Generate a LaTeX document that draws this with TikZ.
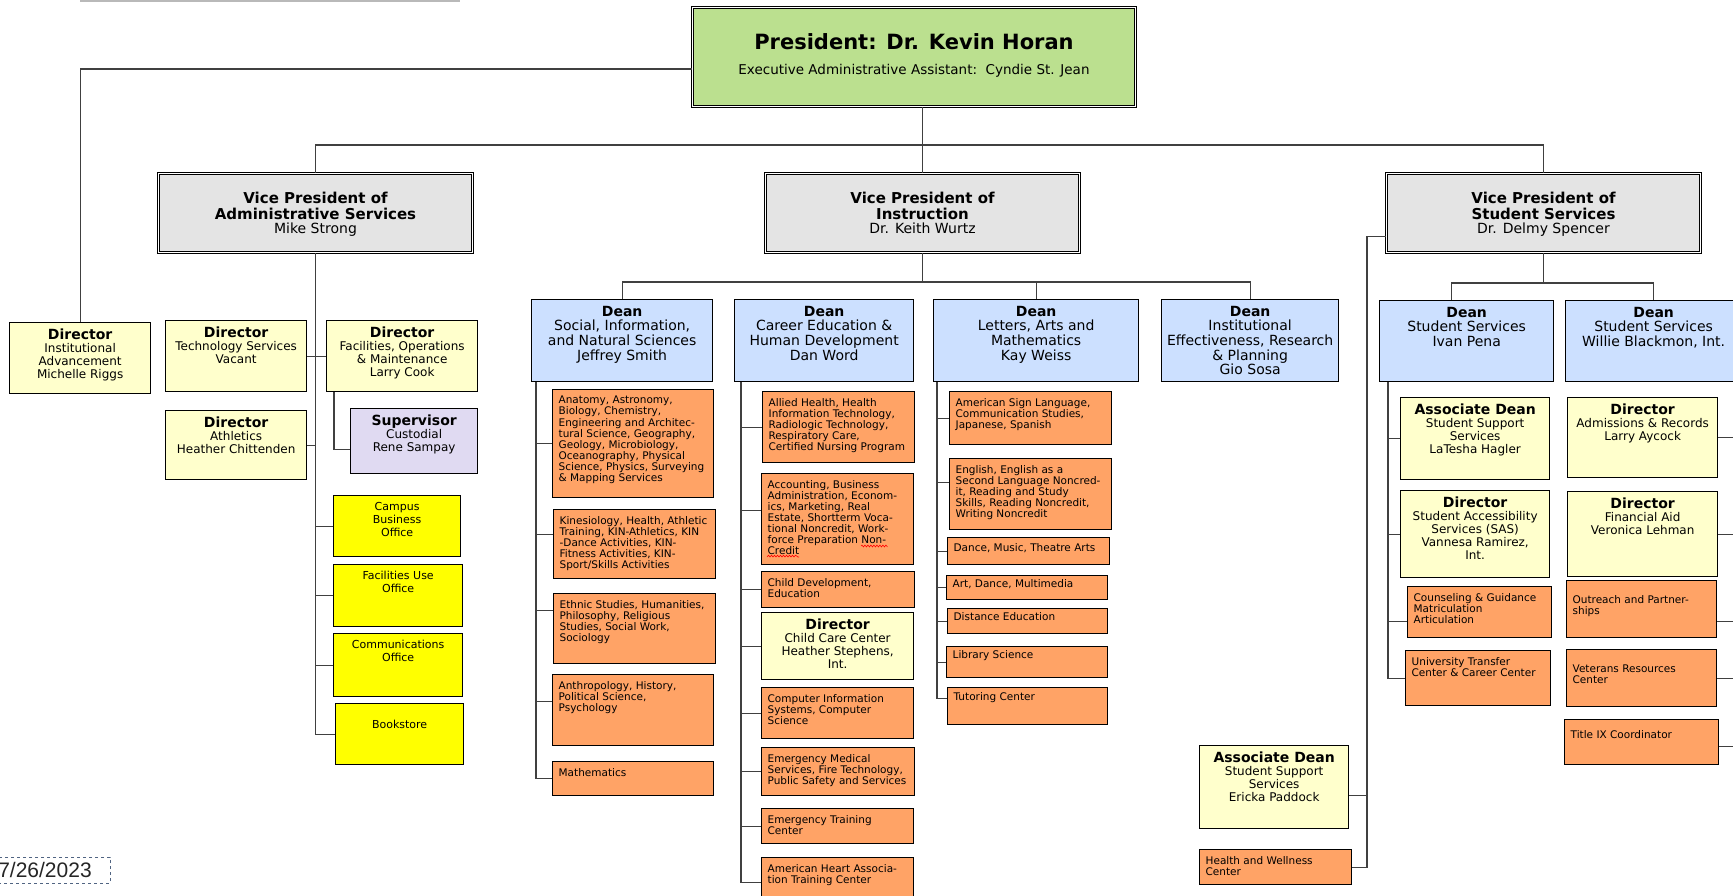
\documentclass[tikz,border=0pt]{standalone}
\usepackage{fontspec}
\setmainfont{DejaVu Sans}
\newfontfamily\datefont{Liberation Sans}
\usepackage{tikz}
\usetikzlibrary{decorations.pathmorphing}

\definecolor{presgreen}{RGB}{187,224,143}
\definecolor{vpgray}{RGB}{228,228,228}
\definecolor{deanblue}{RGB}{204,224,255}
\definecolor{diryellow}{RGB}{255,255,204}
\definecolor{officeyellow}{RGB}{255,255,0}
\definecolor{unitorange}{RGB}{255,163,102}
\definecolor{suplavender}{RGB}{224,218,242}
\definecolor{conngray}{RGB}{64,64,64}
\definecolor{dateblue}{RGB}{80,100,130}

% box contents: [top pad]{width}{height}{text}
\newcommand{\ctext}[4][6.5]{\parbox[t][#3pt][t]{#2pt}{\centering\vspace*{#1pt}#4\par}}
\newcommand{\ltext}[4][6.5]{\parbox[t][#3pt][t]{#2pt}{\raggedright\leftskip=6pt\vspace*{#1pt}#4\par}}
\newcommand{\hd}[1]{{\fontsize{14}{15}\bfseries #1}\\}

\begin{document}
\begin{tikzpicture}[x=1pt, y=-1pt,
  box/.style={draw=black, line width=1.3pt, inner sep=0pt, anchor=north west},
  topbox/.style={box, line width=1pt, double=white, double distance=1.3pt},
  deanbox/.style={box, fill=deanblue, font=\fontsize{14}{14.6}\selectfont},
  dirbox/.style={box, fill=diryellow, font=\fontsize{12}{13}\selectfont},
  officebox/.style={box, fill=officeyellow, font=\fontsize{11}{13}\selectfont},
  unitbox/.style={box, fill=unitorange, font=\fontsize{10.5}{11.1}\selectfont},
  conn/.style={draw=conngray, line width=1.3pt},
  datebox/.style={draw=dateblue, dashed, line width=1pt, minimum width=130,
                  minimum height=26, inner sep=0pt, text=black!85,
                  font=\datefont\fontsize{21}{21}\selectfont}
]
\useasboundingbox (0,0) rectangle (1733,895);
\fill[white] (0,0) rectangle (1733,895);
\clip (0,0) rectangle (1733,895);

% president and vice presidents
\node[topbox, fill=presgreen] (pres) at (692,7) {\ctext[26]{443}{99}{%
  {\fontsize{21}{21}\bfseries President: Dr. Kevin Horan\par}%
  {\fontsize{13.5}{25}\selectfont Executive Administrative Assistant:~~Cyndie St. Jean\par}}};
\node[topbox, fill=vpgray] (vpa) at (158,173) {\ctext[18.5]{314}{79}{%
  {\fontsize{15}{16}\bfseries Vice President of\\ Administrative Services\par}%
  {\fontsize{14}{14}\selectfont Mike Strong\par}}};
\node[topbox, fill=vpgray] (vpi) at (765,173) {\ctext[18.5]{314}{79}{%
  {\fontsize{15}{16}\bfseries Vice President of\\ Instruction\par}%
  {\fontsize{14}{14}\selectfont Dr. Keith Wurtz\par}}};
\node[topbox, fill=vpgray] (vps) at (1386,173) {\ctext[18.5]{314}{79}{%
  {\fontsize{15}{16}\bfseries Vice President of\\ Student Services\par}%
  {\fontsize{14}{14}\selectfont Dr. Delmy Spencer\par}}};

% administrative services
\node[dirbox] (dia) at (9,322) {\ctext{141}{71}{\hd{Director}Institutional\\ Advancement\\ Michelle Riggs}};
\node[dirbox] (tech) at (165,320) {\ctext{141}{71}{\hd{Director}Technology Services\\ Vacant}};
\node[dirbox] (fac) at (326,320) {\ctext{151}{71}{\hd{Director}Facilities, Operations\\ \& Maintenance\\ Larry Cook}};
\node[dirbox] (ath) at (165,410) {\ctext{141}{69}{\hd{Director}Athletics\\ Heather Chittenden}};
\node[dirbox, fill=suplavender] (sup) at (350,408) {\ctext{127}{65}{\hd{Supervisor}Custodial\\ Rene Sampay}};
\node[officebox] (cbo) at (333,495) {\ctext{127}{61}{Campus\\ Business\\ Office}};
\node[officebox] (fuo) at (333,564) {\ctext{129}{62}{Facilities Use\\ Office}};
\node[officebox] (comm) at (333,633) {\ctext{129}{63}{Communications\\ Office}};
\node[officebox] (book) at (335,703) {\ctext[16]{128}{61}{Bookstore}};

% instruction: deans
\node[deanbox] (sins) at (531,299) {\ctext{181}{82}{\hd{Dean}Social, Information,\\ and Natural Sciences\\ Jeffrey Smith}};
\node[deanbox] (cehd) at (734,299) {\ctext{179}{82}{\hd{Dean}Career Education \&\\ Human Development\\ Dan Word}};
\node[deanbox] (lam) at (933,299) {\ctext{205}{82}{\hd{Dean}Letters, Arts and\\ Mathematics\\ Kay Weiss}};
\node[deanbox] (ie) at (1161,299) {\ctext{177}{82}{\hd{Dean}Institutional\\ Effectiveness, Research\\ \& Planning\\ Gio Sosa}};

% instruction: social, information and natural sciences
\node[unitbox] (sins1) at (552,389) {\ltext{161}{108}{Anatomy, Astronomy,\\ Biology, Chemistry,\\ Engineering and Architec-\\ tural Science, Geography,\\ Geology, Microbiology,\\ Oceanography, Physical\\ Science, Physics, Surveying\\ \& Mapping Services}};
\node[unitbox] (sins2) at (553,509) {\ltext{162}{69}{Kinesiology, Health, Athletic\\ Training, KIN-Athletics, KIN\\ -Dance Activities, KIN-\\ Fitness Activities, KIN-\\ Sport/Skills Activities}};
\node[unitbox] (sins3) at (553,593) {\ltext{162}{70}{Ethnic Studies, Humanities,\\ Philosophy, Religious\\ Studies, Social Work,\\ Sociology}};
\node[unitbox] (sins4) at (552,674) {\ltext{161}{71}{Anthropology, History,\\ Political Science,\\ Psychology}};
\node[unitbox] (sins5) at (552,761) {\ltext{161}{34}{Mathematics}};

% instruction: career education and human development
\node[unitbox] (cehd1) at (762,391) {\ltext{152}{71}{Allied Health, Health\\ Information Technology,\\ Radiologic Technology,\\ Respiratory Care,\\ Certified Nursing Program}};
\node[unitbox] (cehd2) at (761,473) {\ltext{152}{91}{Accounting, Business\\ Administration, Econom-\\ ics, Marketing, Real\\ Estate, Shortterm Voca-\\ tional Noncredit, Work-\\ force Preparation Non-\\ Credit}};
\node[unitbox] (cehd3) at (761,571) {\ltext{153}{36}{Child Development,\\ Education}};
\node[dirbox] (cehd4) at (761,612) {\ctext{152}{67}{\hd{Director}Child Care Center\\ Heather Stephens,\\ Int.}};
\node[unitbox] (cehd5) at (761,687) {\ltext{152}{51}{Computer Information\\ Systems, Computer\\ Science}};
\node[unitbox] (cehd6) at (761,747) {\ltext{153}{48}{Emergency Medical\\ Services, Fire Technology,\\ Public Safety and Services}};
\node[unitbox] (cehd7) at (761,808) {\ltext{152}{35}{Emergency Training\\ Center}};
\node[unitbox] (cehd8) at (761,857) {\ltext{152}{50}{American Heart Associa-\\ tion Training Center}};

% instruction: letters, arts and mathematics
\node[unitbox] (lam1) at (949,391) {\ltext{162}{53}{American Sign Language,\\ Communication Studies,\\ Japanese, Spanish}};
\node[unitbox] (lam2) at (949,458) {\ltext{162}{71}{English, English as a\\ Second Language Noncred-\\ it, Reading and Study\\ Skills, Reading Noncredit,\\ Writing Noncredit}};
\node[unitbox] (lam3) at (947,537) {\ltext[6]{162}{27}{Dance, Music, Theatre Arts}};
\node[unitbox] (lam4) at (946,575) {\ltext[4]{161}{24}{Art, Dance, Multimedia}};
\node[unitbox] (lam5) at (947,608) {\ltext[4]{160}{25}{Distance Education}};
\node[unitbox] (lam6) at (946,646) {\ltext[4]{161}{31}{Library Science}};
\node[unitbox] (lam7) at (947,687) {\ltext[4.5]{160}{37}{Tutoring Center}};

% student services
\node[deanbox] (ss1) at (1379,300) {\ctext{174}{81}{\hd{Dean}Student Services\\ Ivan Pena}};
\node[deanbox] (ss2) at (1565,300) {\ctext{176}{81}{\hd{Dean}Student Services\\ Willie Blackmon, Int.}};
\node[dirbox] (ad1) at (1400,397) {\ctext{149}{82}{\hd{Associate Dean}Student Support\\ Services\\ LaTesha Hagler}};
\node[dirbox] (sas) at (1400,490) {\ctext{149}{87}{\hd{Director}Student Accessibility\\ Services (SAS)\\ Vannesa Ramirez,\\ Int.}};
\node[unitbox] (coun) at (1407,586) {\ltext{144}{51}{Counseling \& Guidance\\ Matriculation\\ Articulation}};
\node[unitbox] (utc) at (1405,650) {\ltext{145}{55}{University Transfer\\ Center \& Career Center}};
\node[dirbox] (adm) at (1567,397) {\ctext{150}{80}{\hd{Director}Admissions \& Records\\ Larry Aycock}};
\node[dirbox] (fin) at (1567,491) {\ctext{150}{85}{\hd{Director}Financial Aid\\ Veronica Lehman}};
\node[unitbox] (outr) at (1566,580) {\ltext[15]{150}{57}{Outreach and Partner-\\ ships}};
\node[unitbox] (vet) at (1566,649) {\ltext[15]{150}{57}{Veterans Resources\\ Center}};
\node[unitbox] (tix) at (1564,719) {\ltext[11]{154}{45}{Title IX Coordinator}};
\node[dirbox] (ad2) at (1199,745) {\ctext{149}{83}{\hd{Associate Dean}Student Support\\ Services\\ Ericka Paddock}};
\node[unitbox] (hw) at (1199,849) {\ltext{152}{35}{Health and Wellness\\ Center}};

% date stamp and cut-off frame line
\node[datebox] (date) at (45,870) {7/26/2023};
\draw[gray!55, line width=2pt] (80,0.5) -- (460,0.5);

% spell-check marks
\draw[red, line width=0.6pt, decorate, decoration={snake, amplitude=0.9pt, segment length=3pt}]
  (861,546) -- (886,546) (767,557) -- (799,557);

% connectors: top levels
\coordinate (vpbus) at (0,145);
\draw[conn] (pres.south -| vpi.north) -- (vpi.north);
\draw[conn] (vpa.north) |- (vps.north |- vpbus) -- (vps.north);
\draw[conn] ([yshift=-12pt]pres.west) -| (dia.north);

% connectors: administrative services
\foreach \n in {tech,ath}
  \draw[conn] (\n.east) -| (vpa.south);
\foreach \n in {fac,cbo,fuo,comm,book}
  \draw[conn] (\n.west) -| (vpa.south);
\draw[conn] ([xshift=8pt]fac.south west) |- ([yshift=-8.5pt]sup.west);

% connectors: instruction
\coordinate (deanbus) at (0,282);
\draw[conn] (vpi.south) -- (vpi.south |- deanbus);
\draw[conn] (sins.north) |- (ie.north |- deanbus) -- (ie.north);
\draw[conn] (lam.north) -- (lam.north |- deanbus);
\coordinate (sinsx) at ([xshift=5pt]sins.south west);
\coordinate (cehdx) at ([xshift=7pt]cehd.south west);
\coordinate (lamx) at ([xshift=4pt]lam.south west);
\foreach \n/\s in {sins1/0,sins2/9.5,sins3/18,sins4/8.5,sins5/0}
  \draw[conn] ([yshift=\s]\n.west) -| (sinsx);
\foreach \n/\s in {cehd1/0,cehd2/8.5,cehd3/0,cehd4/0,cehd5/0,cehd6/0,cehd7/0,cehd8/0}
  \draw[conn] ([yshift=\s]\n.west) -| (cehdx);
\foreach \n/\s in {lam1/0,lam2/11.5,lam3/0,lam4/0,lam5/0,lam6/0,lam7/7.5}
  \draw[conn] ([yshift=\s]\n.west) -| (lamx);

% connectors: student services
\coordinate (ssbus) at (0,283);
\draw[conn] (vps.south) -- (vps.south |- ssbus);
\draw[conn] ([xshift=-15pt]ss1.north) |- (ss2.north |- ssbus) -- (ss2.north);
\coordinate (ss1x) at ([xshift=9pt]ss1.south west);
\coordinate (ss2x) at ([xshift=-4pt]ss2.south east);
\foreach \n/\s in {ad1/0,sas/0,coun/-9.5,utc/0}
  \draw[conn] ([yshift=\s]\n.west) -| (ss1x);
\foreach \n/\s in {adm/0,fin/0,outr/-12.5,vet/0,tix/-4.5}
  \draw[conn] ([yshift=\s]\n.east) -| (ss2x);
\coordinate (vpsl) at ([yshift=-23.5pt]vps.west);
\coordinate (vpslx) at ([xshift=-19pt]vpsl);
\draw[conn] (hw.east) -| (vpslx) -- (vpsl);
\draw[conn] ([yshift=-8.5pt]ad2.east) -| (vpslx);
\end{tikzpicture}
\end{document}
